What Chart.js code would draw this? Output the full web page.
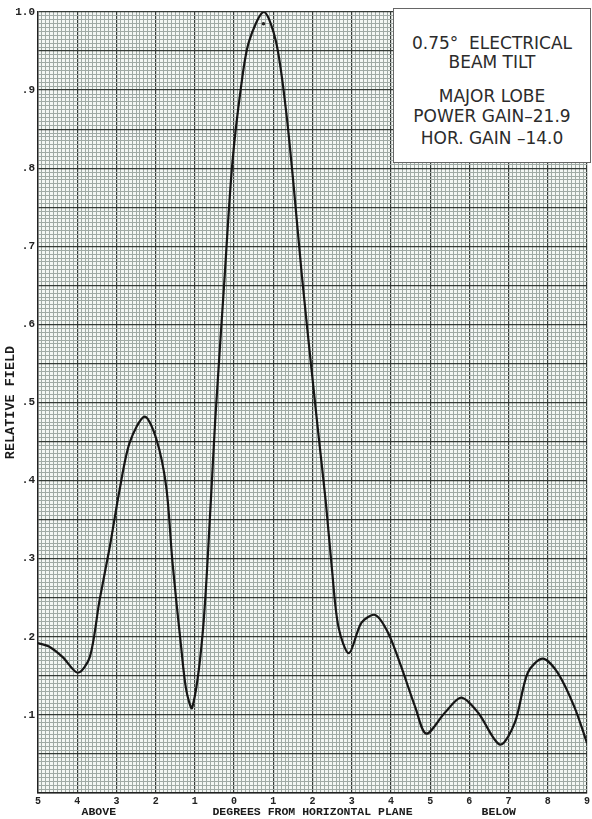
<!DOCTYPE html>
<html>
<head>
<meta charset="utf-8">
<script src="https://cdn.jsdelivr.net/npm/chart.js@4.4.1/dist/chart.umd.min.js"></script>
<style>
  html, body { margin: 0; padding: 0; background: #fff; }
  #wrap { position: relative; width: 592px; height: 819px; }
  #note {
    position: absolute; left: 393px; top: 8px; width: 196px; height: 153px;
    background: #fff; border: 1px solid #666;
    font-family: "DejaVu Sans", sans-serif; font-size: 17px; color: #2b2b2b;
  }
  #note div { position: absolute; left: 0; width: 100%; text-align: center; line-height: 20px; white-space: nowrap; }
</style>
</head>
<body>
<div id="wrap">
  <canvas id="myChart" width="592" height="819"></canvas>
  <div id="note">
    <div style="top:24px">0.75°&nbsp; ELECTRICAL</div>
    <div style="top:43px">BEAM TILT</div>
    <div style="top:77px">MAJOR LOBE</div>
    <div style="top:97px">POWER GAIN–21.9</div>
    <div style="top:119px">HOR. GAIN –14.0</div>
  </div>
</div>
<script>
// degrees from horizontal plane: negative = above, positive = below
const angleDeg = [
  -5, -4.7, -4.37, -3.98, -3.68, -3.43, -3.17, -2.92, -2.66, -2.28, -1.98,
  -1.73, -1.57, -1.35, -1.22, -1.07, -0.8, -0.59, -0.48, -0.25, -0.05, 0.18,
  0.38, 0.76, 1.07, 1.32, 1.52, 1.73, 1.98, 2.16, 2.34, 2.49, 2.66, 2.93,
  3.25, 3.6, 3.93, 4.26, 4.62, 4.9, 5.38, 5.79, 6.22, 6.78, 7.16, 7.49,
  7.87, 8.25, 8.68, 9.0
];
const relativeField = [
  0.192, 0.187, 0.174, 0.154, 0.174, 0.247, 0.315, 0.388, 0.449, 0.482, 0.453,
  0.392, 0.295, 0.187, 0.132, 0.109, 0.205, 0.376, 0.478, 0.654, 0.803, 0.905,
  0.962, 1.0, 0.962, 0.876, 0.777, 0.662, 0.54, 0.455, 0.372, 0.29, 0.213, 0.179,
  0.218, 0.228, 0.205, 0.162, 0.11, 0.076, 0.103, 0.122, 0.103, 0.062, 0.09, 0.154,
  0.172, 0.154, 0.11, 0.064
];
const peakMark = [{ x: 0.75, y: 0.985 }];

const regionLabels = ['ABOVE', 'BELOW'];
const regionCenters = [-3.45, 6.75];

const labelFont = '"Liberation Mono", monospace';

const isWhole = (v, step) => Math.abs(v / step - Math.round(v / step)) < 1e-6;

const paper = {
  id: 'paper',
  beforeDraw(chart) {
    const a = chart.chartArea;
    chart.ctx.save();
    chart.ctx.fillStyle = '#f4f7f4';
    chart.ctx.fillRect(a.left, a.top, a.right - a.left, a.bottom - a.top);
    chart.ctx.restore();
  },
  afterDraw(chart) {
    const ctx = chart.ctx;
    const xs = chart.scales.x;
    ctx.save();
    ctx.font = 'bold 11.5px ' + labelFont;
    ctx.fillStyle = '#1a1a1a';
    ctx.textAlign = 'center';
    ctx.textBaseline = 'middle';
    regionLabels.forEach((t, i) => {
      ctx.fillText(t, xs.getPixelForValue(regionCenters[i]), 812);
    });
    ctx.restore();
  }
};

const points = angleDeg.map((x, i) => ({ x: x, y: relativeField[i] }));

new Chart(document.getElementById('myChart'), {
  type: 'scatter',
  data: {
    datasets: [{
      data: points,
      showLine: true,
      borderColor: '#161616',
      borderWidth: 2.2,
      pointRadius: 0,
      tension: 0.3
    }, {
      data: peakMark,
      pointRadius: 1.8,
      backgroundColor: '#222',
      borderWidth: 0
    }]
  },
  options: {
    responsive: false,
    animation: false,
    devicePixelRatio: 1,
    layout: { padding: { left: 0, right: 1, top: 12, bottom: 0 } },
    plugins: { legend: { display: false }, tooltip: { enabled: false } },
    scales: {
      x: {
        type: 'linear',
        min: -5, max: 9,
        afterFit(s) { s.height = 26; },
        border: { color: '#222', width: 1.4 },
        grid: {
          drawTicks: false,
          color: c => isWhole(c.tick.value, 1) ? '#353b37' : '#a0aaa5',
          lineWidth: c => isWhole(c.tick.value, 1) ? 1.2 : 1
        },
        ticks: {
          stepSize: 0.1,
          autoSkip: false,
          maxRotation: 0,
          padding: 2,
          color: '#222',
          font: { family: labelFont, size: 10, weight: 'bold' },
          callback: v => isWhole(v, 1) ? String(Math.abs(Math.round(v))) : ''
        },
        title: {
          display: true,
          text: 'DEGREES FROM HORIZONTAL PLANE',
          color: '#1a1a1a',
          padding: 0,
          font: { family: labelFont, size: 11.5, weight: 'bold' }
        }
      },
      y: {
        min: 0, max: 1,
        afterFit(s) { s.width = 38; },
        border: { color: '#222', width: 1.4 },
        grid: {
          drawTicks: false,
          color: c => isWhole(c.tick.value, 0.05) ? '#353b37' : '#a0aaa5',
          lineWidth: c => isWhole(c.tick.value, 0.05) ? 1.2 : 1
        },
        ticks: {
          stepSize: 0.005,
          autoSkip: false,
          padding: 3,
          color: '#222',
          font: { family: labelFont, size: 11, weight: 'bold' },
          callback: v => {
            if (!isWhole(v, 0.1) || v === 0) return '';
            if (v >= 0.999) return '1.0';
            return '.' + Math.round(v * 10);
          }
        },
        title: {
          display: true,
          text: 'RELATIVE FIELD',
          color: '#1a1a1a',
          padding: { top: 2, bottom: 0 },
          font: { family: labelFont, size: 13.5, weight: 'bold' }
        }
      }
    }
  },
  plugins: [paper]
});
</script>
</body>
</html>
